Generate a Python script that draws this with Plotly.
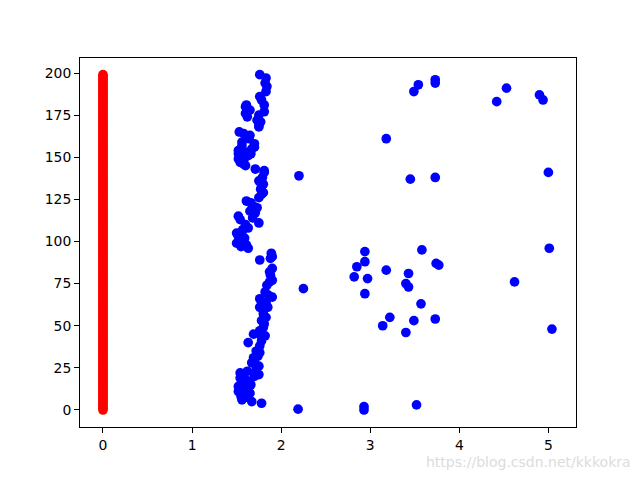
import plotly.graph_objects as go

# red series: x = 0 for every index 0..199
red_y = list(range(200))
red_x = [0] * len(red_y)

# blue series: main cluster (x, y)
cluster_x = [1.78, 1.56, 1.67, 1.55, 1.60, 1.52, 1.63, 1.58, 1.52, 1.66, 1.63, 1.56, 1.54, 1.60, 1.70, 1.54, 1.75, 1.62, 1.72, 1.75,
             1.67, 1.70, 1.69, 1.74, 1.76, 1.72, 1.76, 1.63, 1.78, 1.69, 1.82, 1.78, 1.76, 1.80, 1.81, 1.78, 1.80, 1.83, 1.76, 1.85,
             1.80, 1.83, 1.76, 1.90, 1.82, 1.86, 1.84, 1.87, 1.90, 1.88, 1.90, 1.87, 1.76, 1.90, 1.89, 1.88,
             1.63, 1.55, 1.50, 1.53, 1.58, 1.52, 1.59, 1.50, 1.54, 1.63, 1.57, 1.75, 1.54, 1.52, 1.68, 1.71, 1.65, 1.69, 1.73, 1.61,
             1.75, 1.66, 1.78, 1.80, 1.77, 1.78, 1.80, 1.75, 1.79, 1.81, 1.81, 1.71,
             1.60, 1.54, 1.58, 1.52, 1.56, 1.63, 1.52, 1.66, 1.60, 1.52, 1.67, 1.70, 1.56, 1.70, 1.56, 1.64, 1.65, 1.53, 1.58, 1.75,
             1.75, 1.77, 1.73, 1.62, 1.75, 1.60, 1.65, 1.81, 1.61, 1.81, 1.76, 1.78, 1.83, 1.84, 1.82, 1.83, 1.76,
             1.57, 1.65, 1.58, 1.60, 1.56, 1.61, 1.58, 1.60]
cluster_y = [4, 6, 5, 8, 9, 11, 12, 13, 14, 15, 17, 16, 19, 18, 20, 22, 21, 23, 24, 26,
             28, 29, 31, 32, 34, 35, 38, 40, 41, 45, 44, 43, 47, 49, 51, 53, 57, 55, 61, 61,
             59, 64, 66, 67, 70, 68, 74, 76, 77, 80, 84, 82, 89, 91, 93, 90,
             96, 97, 99, 100, 101, 103, 102, 105, 104, 108, 107, 111, 113, 115, 114, 117, 118, 121, 120, 124,
             126, 123, 128, 129, 131, 133, 134, 136, 138, 141, 142, 143,
             145, 147, 148, 149, 150, 151, 152, 152, 153, 154, 155, 156, 157, 158, 159, 161, 163, 165, 164, 168,
             169, 171, 172, 174, 175, 176, 178, 177, 181, 181, 186, 184, 189, 192, 194, 197, 199,
             10, 10, 7, 110, 106, 98, 146, 180]

# blue series: scattered points (x, y)
outlier_x = [2.19, 2.93, 2.93, 3.52, 2.25, 2.20, 3.18, 3.45, 3.73, 3.49, 3.54, 3.73, 3.73, 4.42, 4.53, 4.90, 4.94, 5.00, 5.01, 4.62,
             5.04, 2.94, 2.94, 2.85, 2.82, 2.97, 2.94, 3.18, 3.58, 3.74, 3.77, 3.43, 3.40, 3.43, 3.57, 3.22, 3.14, 3.49, 3.40, 3.73]
outlier_y = [0.5, 0, 2, 3, 72, 139, 161, 137, 138, 189, 193, 196, 194, 183, 191, 187, 184, 141, 96, 76,
             48, 94, 88, 85, 79, 78, 69, 83, 95, 87, 86, 81, 75, 73, 63, 55, 50, 53, 46, 54]

blue_x = cluster_x + outlier_x
blue_y = cluster_y + outlier_y

fig = go.Figure()
fig.add_trace(go.Scatter(x=red_x, y=red_y, mode="markers",
                         marker=dict(color="#ff0000", size=9.7, line=dict(width=0))))
fig.add_trace(go.Scatter(x=blue_x, y=blue_y, mode="markers",
                         marker=dict(color="#0000ff", size=9.7, line=dict(width=0))))

axis_common = dict(showgrid=False, zeroline=False, showline=True, linecolor="black", linewidth=1.1,
                   mirror=True, ticks="outside", ticklen=4.9, tickwidth=1.1, tickcolor="black",
                   tickfont=dict(family="DejaVu Sans", size=13.9, color="black"))
fig.update_xaxes(range=[-0.258, 5.31], tickmode="linear", tick0=0, dtick=1, **axis_common)
fig.update_yaxes(range=[-10.1, 208.9], tickmode="linear", tick0=0, dtick=25, **axis_common)

fig.add_annotation(text="https://blog.csdn.net/kkkokra", xref="paper", yref="paper",
                   x=1.115, y=-0.095, xanchor="right", yanchor="middle", showarrow=False,
                   font=dict(family="DejaVu Sans", size=14, color="#dcdcdc"))

# the page body has an 8px margin, so the figure is 8px smaller and margins are offset
fig.update_layout(width=632, height=472, margin=dict(l=72, r=64, t=50, b=53),
                  plot_bgcolor="white", paper_bgcolor="white", showlegend=False)

fig.write_html("out.html")
